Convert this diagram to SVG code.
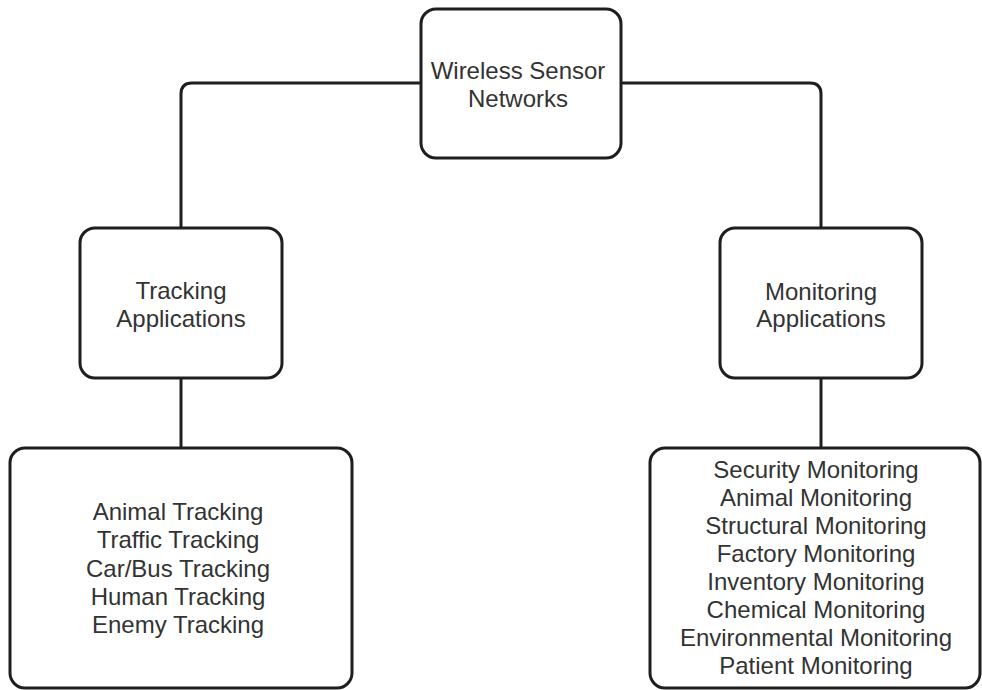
<svg xmlns="http://www.w3.org/2000/svg" width="982" height="690" viewBox="0 0 982 690">
  <style>
    .box { fill: #ffffff; stroke: #1e1e1e; stroke-width: 3; }
    .link { fill: none; stroke: #1e1e1e; stroke-width: 3; }
    .label { font-family: "Liberation Sans", Arial, sans-serif; font-size: 24px; fill: #333333; text-anchor: middle; }
  </style>
  <rect width="982" height="690" fill="#ffffff"/>

  <g id="connectors">
    <path class="link" d="M421,83 H192 Q181,83 181,94 V228"/>
    <path class="link" d="M621,83 H810 Q821,83 821,94 V228"/>
    <path class="link" d="M181,378 V448"/>
    <path class="link" d="M821,378 V448"/>
  </g>

  <g id="wsn">
    <rect class="box" x="421" y="9" width="200" height="149" rx="15"/>
    <text class="label" x="518" y="79">Wireless Sensor</text>
    <text class="label" x="518" y="107">Networks</text>
  </g>

  <g id="tracking">
    <rect class="box" x="80" y="228" width="202" height="150" rx="15"/>
    <text class="label" x="181" y="299">Tracking</text>
    <text class="label" x="181" y="327">Applications</text>
  </g>

  <g id="monitoring">
    <rect class="box" x="720" y="228" width="202" height="150" rx="15"/>
    <text class="label" x="821" y="300">Monitoring</text>
    <text class="label" x="821" y="327">Applications</text>
  </g>

  <g id="tracking-list">
    <rect class="box" x="10" y="448" width="342" height="240" rx="15"/>
    <text class="label" x="178" y="520">Animal Tracking</text>
    <text class="label" x="178" y="548">Traffic Tracking</text>
    <text class="label" x="178" y="577">Car/Bus Tracking</text>
    <text class="label" x="178" y="605">Human Tracking</text>
    <text class="label" x="178" y="633">Enemy Tracking</text>
  </g>

  <g id="monitoring-list">
    <rect class="box" x="650" y="448" width="330" height="240" rx="15"/>
    <text class="label" x="816" y="478">Security Monitoring</text>
    <text class="label" x="816" y="506">Animal Monitoring</text>
    <text class="label" x="816" y="534">Structural Monitoring</text>
    <text class="label" x="816" y="562">Factory Monitoring</text>
    <text class="label" x="816" y="590">Inventory Monitoring</text>
    <text class="label" x="816" y="618">Chemical Monitoring</text>
    <text class="label" x="816" y="646">Environmental Monitoring</text>
    <text class="label" x="816" y="674">Patient Monitoring</text>
  </g>
</svg>
